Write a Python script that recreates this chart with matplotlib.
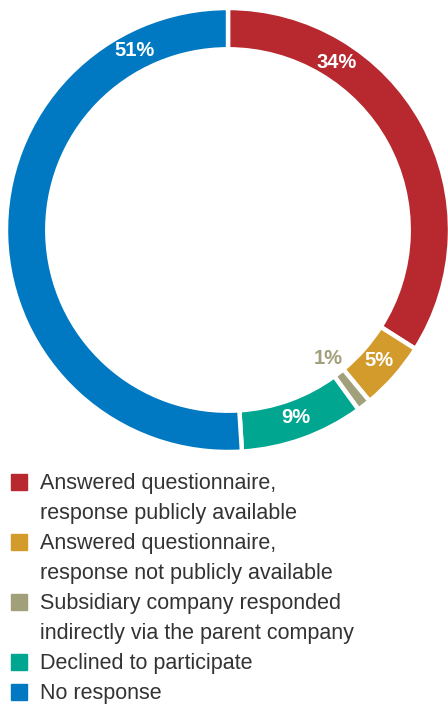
import numpy as np
import matplotlib.pyplot as plt
import matplotlib.patches as mpatches

plt.rcParams['font.family'] = ['Liberation Sans', 'DejaVu Sans']

# data
categories = [
    "Answered questionnaire,\nresponse publicly available",
    "Answered questionnaire,\nresponse not publicly available",
    "Subsidiary company responded\nindirectly via the parent company",
    "Declined to participate",
    "No response",
]
shares = [34, 5, 1, 9, 51]
labels = ["34%", "5%", "1%", "9%", "51%"]
colors = ["#B8282F", "#D39B2B", "#A1A07B", "#00A68F", "#0079C2"]
label_colors = ["white", "white", "#A1A07B", "white", "white"]
# where along each wedge the label sits (0 = start, 1 = end) and its radius
label_pos = [0.27, 0.47, 0.5, 0.5, 0.85]
label_rad = [0.90, 0.90, 0.735, 0.90, 0.91]

W, H = 448, 704
fig = plt.figure(figsize=(W / 100, H / 100), dpi=100)

cx, cy, r = 228, 230, 222
ax = fig.add_axes([(cx - r) / W, 1 - (cy + r) / H, 2 * r / W, 2 * r / H])

wedges, _ = ax.pie(shares, colors=colors, startangle=90, counterclock=False,
                   radius=1, wedgeprops=dict(width=0.186, edgecolor="white", linewidth=3.2))
ax.set_xlim(-1, 1)
ax.set_ylim(-1, 1)
ax.set_aspect("equal")
ax.axis("off")
for w in wedges:
    w.set_clip_on(False)

total = sum(shares)
start = 90.0
for val, lab, col, f, rr in zip(shares, labels, label_colors, label_pos, label_rad):
    span = 360.0 * val / total
    ang = np.deg2rad(start - span * f)
    ax.text(rr * np.cos(ang), rr * np.sin(ang), lab, ha="center", va="center",
            color=col, fontsize=14.5, fontweight="bold", zorder=5)
    start -= span

# legend drawn by hand
y0 = 489.5
line_h = 30
line = 0
for cat, col in zip(categories, colors):
    base = y0 + line * line_h
    fig.patches.append(mpatches.Rectangle((11 / W, 1 - base / H), 16 / W, 16 / H,
                                          transform=fig.transFigure, color=col))
    for k, txt in enumerate(cat.split("\n")):
        fig.text(40 / W, 1 - (base + k * line_h) / H, txt, ha="left", va="baseline",
                 fontsize=15.5, color="#333333")
    line += len(cat.split("\n"))

fig.savefig("out.png", dpi=100)
